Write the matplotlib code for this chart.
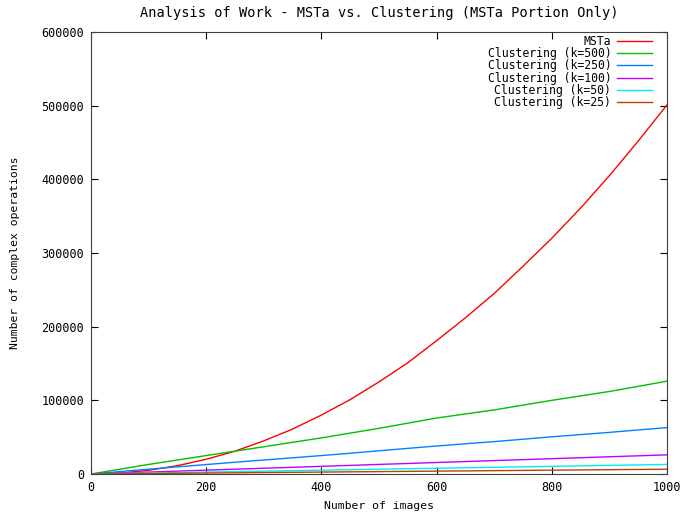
import matplotlib
matplotlib.use("Agg")
import matplotlib.pyplot as plt

# number of images
images = [0, 50, 100, 150, 200, 250, 300, 350, 400, 450, 500,
          550, 600, 650, 700, 750, 800, 850, 900, 950, 1000]

# complex operations
msta = [0, 1300, 5000, 11300, 20000, 31000, 45000, 61000, 80000, 101000, 125000,
        151000, 181000, 212000, 245000, 282000, 320000, 361000, 405000, 452000, 501000]
k500 = [0, 6500, 13000, 19000, 25000, 31000, 37000, 43000, 49000, 55500, 62000,
        69000, 76000, 81500, 87000, 93500, 100000, 106000, 112000, 119000, 126000]
k250 = [0, 3300, 6500, 9700, 12800, 16000, 19000, 22000, 25000, 28200, 31500,
        34800, 38000, 41000, 44000, 47200, 50500, 53500, 56500, 59800, 63000]
k100 = [0, 1300, 2600, 3900, 5200, 6500, 7800, 9100, 10400, 11700, 13000,
        14300, 15600, 16900, 18200, 19500, 20800, 22100, 23400, 24700, 26000]
k50 = [0, 650, 1300, 1950, 2600, 3250, 3900, 4550, 5200, 5850, 6500,
       7150, 7800, 8450, 9100, 9750, 10400, 11050, 11700, 12350, 13000]
k25 = [0, 330, 650, 980, 1300, 1630, 1950, 2280, 2600, 2930, 3250,
       3580, 3900, 4230, 4550, 4880, 5200, 5530, 5850, 6180, 6500]

series = [
    ("MSTa", msta, "#ff0000"),
    ("Clustering (k=500)", k500, "#00c000"),
    ("Clustering (k=250)", k250, "#0080ff"),
    ("Clustering (k=100)", k100, "#c000ff"),
    ("Clustering (k=50)", k50, "#00eeee"),
    ("Clustering (k=25)", k25, "#c04000"),
]

plt.rcParams["font.family"] = "DejaVu Sans Mono"
plt.rcParams["font.size"] = 8.2

fig = plt.figure(figsize=(6.86, 5.12), dpi=100)
ax = fig.add_axes([91 / 686, 1 - 474 / 512, 576 / 686, 442 / 512])

for label, vals, color in series:
    ax.plot(images, vals, color=color, lw=1, label=label)

ax.set_xlim(0, 1000)
ax.set_ylim(0, 600000)
ax.set_xticks(range(0, 1001, 200))
ax.set_yticks(range(0, 600001, 100000))
ax.tick_params(direction="in", top=True, right=True, length=5, pad=5,
               labelsize=8.5)
for s in ax.spines.values():
    s.set_color("#404040")

ax.set_xlabel("Number of images", labelpad=5)
ax.set_ylabel("Number of complex operations", labelpad=15)
ax.set_title("Analysis of Work - MSTa vs. Clustering (MSTa Portion Only)", pad=11)

leg = ax.legend(loc="upper right", bbox_to_anchor=(1 - 9 / 576, 1 + 3 / 442),
                markerfirst=False, frameon=False,
                fontsize=8.3, handlelength=3.0, labelspacing=-0.08,
                borderaxespad=0.25, handletextpad=0.5, borderpad=0.3)
for t in leg.get_texts():
    t.set_ha("right")

fig.savefig("out.png", dpi=100)
